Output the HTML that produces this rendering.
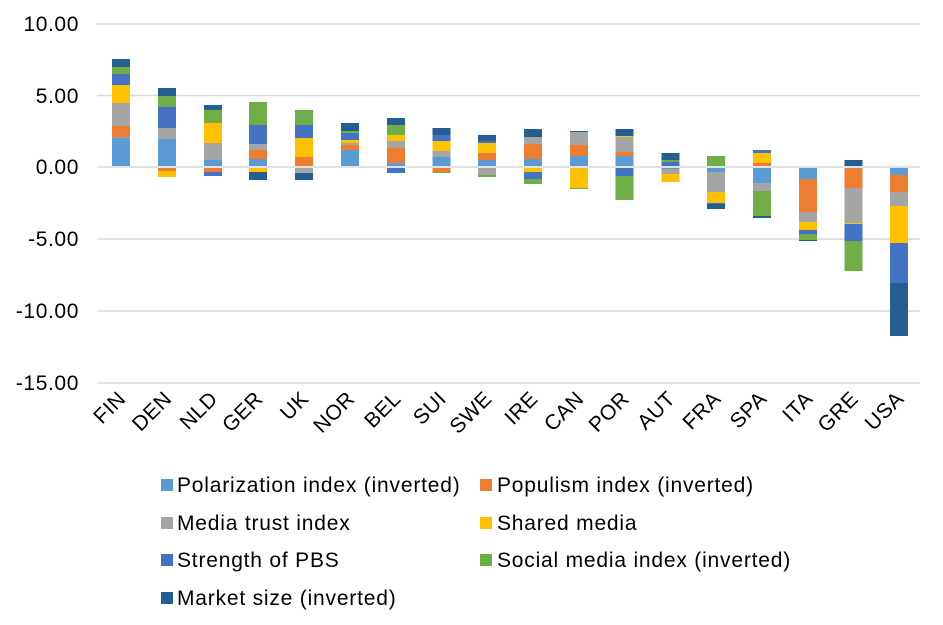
<!DOCTYPE html>
<html><head><meta charset="utf-8"><style>body{margin:0;background:#fff}svg{display:block}text{font-family:"Liberation Sans",Arial,sans-serif;fill:#000}</style></head><body>
<svg width="943" height="625" viewBox="0 0 943 625" xmlns="http://www.w3.org/2000/svg">
<g stroke="#d9d9d9" stroke-width="1.5">
<line x1="97" x2="920" y1="24" y2="24"/><line x1="97" x2="920" y1="95.5" y2="95.5"/><line x1="97" x2="920" y1="167" y2="167"/><line x1="97" x2="920" y1="239" y2="239"/><line x1="97" x2="920" y1="311" y2="311"/><line x1="97" x2="920" y1="383" y2="383"/>
</g>
<g font-size="21" text-anchor="end" letter-spacing="0.6">
<text x="79" y="31">10.00</text><text x="79" y="103">5.00</text><text x="79" y="174">0.00</text><text x="79" y="246">-5.00</text><text x="79" y="318">-10.00</text><text x="79" y="390">-15.00</text>
</g>
<g id="bars"></g>
<g font-size="21" text-anchor="end" letter-spacing="0.5" id="cats"></g>
<g font-size="21" letter-spacing="0.8">
<rect x="161" y="479" width="12" height="12" fill="#5B9BD5"/><text x="177" y="492">Polarization index (inverted)</text>
<rect x="161" y="517" width="12" height="12" fill="#A5A5A5"/><text x="177" y="530">Media trust index</text>
<rect x="161" y="554" width="12" height="12" fill="#4472C4"/><text x="177" y="567">Strength of PBS</text>
<rect x="161" y="592" width="12" height="12" fill="#255E91"/><text x="177" y="605">Market size (inverted)</text>
<rect x="480" y="479" width="12" height="12" fill="#ED7D31"/><text x="497" y="492">Populism index (inverted)</text>
<rect x="480" y="517" width="12" height="12" fill="#FFC000"/><text x="497" y="530">Shared media</text>
<rect x="480" y="554" width="12" height="12" fill="#70AD47"/><text x="497" y="567">Social media index (inverted)</text>
</g>
<script>
var C={p:"#5B9BD5",o:"#ED7D31",t:"#A5A5A5",s:"#FFC000",b:"#4472C4",g:"#70AD47",m:"#255E91"};
var D=[
["FIN",112,[["p",166,137.3],["o",137.3,126],["t",126,103],["s",103,85],["b",85,74],["g",74,67],["m",67,59]]],
["DEN",158,[["p",166,139],["t",139,128],["b",128,107],["g",107,96],["m",96,88],["o",168,171],["s",171,177]]],
["NLD",204,[["p",166,160],["t",160,143],["s",143,123],["g",123,110],["m",110,105],["o",168,172],["b",172,176]]],
["GER",249,[["p",166,159],["o",159,150],["t",150,144],["b",144,125],["g",125,102],["s",168,172],["m",172,180]]],
["UK",295,[["o",166,157],["s",157,138],["b",138,125],["g",125,110],["t",168,173],["m",173,180]]],
["NOR",341,[["p",166,150],["o",150,145],["t",145,143],["s",143,140],["b",140,133],["g",133,131],["m",131,123]]],
["BEL",387,[["p",166,163],["o",163,148],["t",148,141],["s",141,135],["g",135,125],["m",125,118],["b",168,173]]],
["SUI",432.5,[["p",166,157],["t",157,151],["s",151,141],["b",141,135],["m",135,128],["o",168,172],["g",172,173]]],
["SWE",478,[["p",166,160],["o",160,153],["s",153,143],["b",143,141],["m",141,135],["t",168,175],["g",175,177]]],
["IRE",524,[["p",166,159],["o",159,144],["t",144,137],["m",137,129],["s",168,172],["b",172,179],["g",179,184]]],
["CAN",570,[["p",166,156],["o",156,145],["t",145,132],["m",132,131],["s",168,188],["g",188,189]]],
["POR",615.5,[["p",166,156],["o",156,152],["t",152,137],["s",137,136],["m",136,129],["b",168,176],["g",176,200]]],
["AUT",661.5,[["b",166,162],["g",162,160],["m",160,153],["p",168,169],["t",169,174],["s",174,182]]],
["FRA",707,[["g",166,156],["p",168,172],["t",172,192],["s",192,203],["b",203,204],["m",204,209]]],
["SPA",753,[["o",166,163],["s",163,153],["b",153,150],["p",168,183],["t",183,191],["g",191,216],["m",216,218]]],
["ITA",799,[["p",168,179],["o",179,212],["t",212,222],["s",222,230],["b",230,234],["g",234,240],["m",240,241]]],
["GRE",844.5,[["m",166,160],["o",168,188],["t",188,223],["s",223,224],["b",224,241],["g",241,271]]],
["USA",890,[["p",168,175],["o",175,192],["t",192,206],["s",206,243],["b",243,283],["m",283,336]]]];
var ns="http://www.w3.org/2000/svg",B=document.getElementById("bars"),T=document.getElementById("cats");
D.forEach(function(d){d[2].forEach(function(s){var r=document.createElementNS(ns,"rect");var y=Math.min(s[1],s[2]);r.setAttribute("x",d[1]);r.setAttribute("width",18);r.setAttribute("y",y);r.setAttribute("height",Math.abs(s[2]-s[1]));r.setAttribute("fill",C[s[0]]);B.appendChild(r);});
var t=document.createElementNS(ns,"text");var cx=d[1]+9+6,cy=400;t.setAttribute("x",cx);t.setAttribute("y",cy);t.setAttribute("transform","rotate(-45 "+cx+" "+cy+")");t.textContent=d[0];T.appendChild(t);});
</script>
</svg>
</body></html>
